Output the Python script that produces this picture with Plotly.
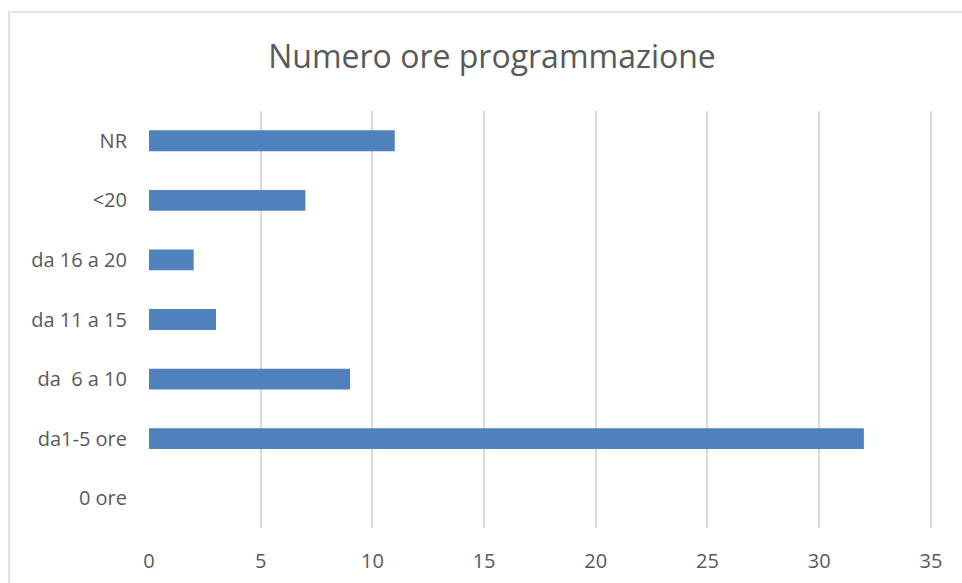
import plotly.graph_objects as go

# Data (bottom to top, as in the reference)
categorie = ["0 ore", "da1-5 ore", "da  6 a 10", "da 11 a 15", "da 16 a 20", "<20", "NR"]
valori = [0, 32, 9, 3, 2, 7, 11]
x_ticks = [0, 5, 10, 15, 20, 25, 30, 35]

grey_text = "#595959"
grid_col = "#D9D9D9"

W, H = 962, 583
plot_l, plot_r, plot_t, plot_b = 149, 932, 111, 528

fig = go.Figure()
fig.add_trace(go.Bar(
    y=categorie,
    x=valori,
    orientation="h",
    width=0.35,
    marker=dict(color="#4F81BD", line=dict(width=0)),
))

fig.update_layout(
    width=W,
    height=H,
    margin=dict(l=plot_l, r=W - plot_r, t=plot_t, b=H - plot_b),
    paper_bgcolor="white",
    plot_bgcolor="white",
    showlegend=False,
    font=dict(family="Open Sans", color=grey_text, size=20),
    title=dict(
        text="Numero ore programmazione",
        x=492 / W, xanchor="center", xref="container",
        y=1 - 57 / H, yanchor="middle", yref="container",
        font=dict(size=32, color=grey_text, family="Open Sans"),
    ),
)

fig.update_xaxes(
    range=[0, 35.05],
    tickvals=x_ticks,
    showgrid=True,
    gridcolor=grid_col,
    gridwidth=1.5,
    zeroline=False,
    showline=False,
    ticks="",
    ticklabelstandoff=19,
    automargin=False,
    tickfont=dict(size=20, color=grey_text),
)
fig.update_yaxes(
    categoryorder="array",
    categoryarray=categorie,
    showgrid=False,
    zeroline=False,
    showline=False,
    ticks="",
    ticklabelstandoff=21,
    automargin=False,
    tickfont=dict(size=20, color=grey_text),
)

# outer chart frame: only top and left edges are visible in the reference
w = plot_r - plot_l
h = plot_b - plot_t
fx = (9 - plot_l) / w
fy = 1 + (plot_t - 12) / h
frame = dict(color=grid_col, width=1.5)
fig.add_shape(type="line", xref="paper", yref="paper",
              x0=fx, x1=1.2, y0=fy, y1=fy, line=frame, layer="below")
fig.add_shape(type="line", xref="paper", yref="paper",
              x0=fx, x1=fx, y0=-0.3, y1=fy, line=frame, layer="below")

# drop the default page margin so the figure fills the window without scrollbars
fig.write_html(
    "out.html",
    config={"displayModeBar": False},
    post_script="document.body.style.margin='0';document.body.style.overflow='hidden';",
)
